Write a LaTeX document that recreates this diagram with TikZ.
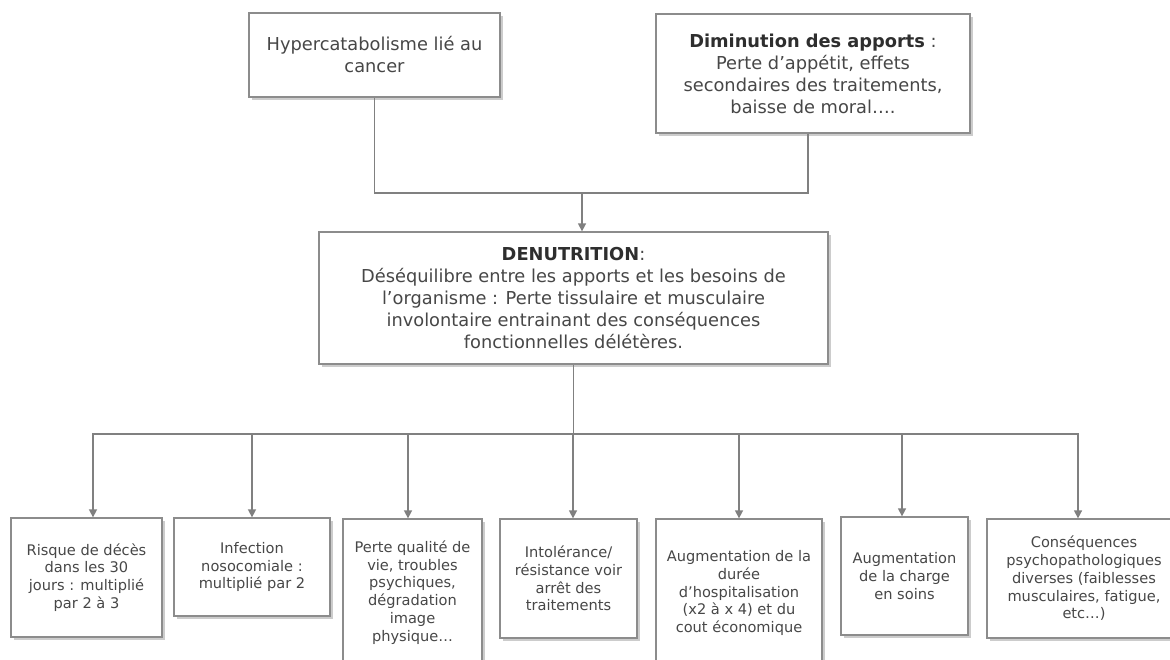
\documentclass[tikz,border=0pt]{standalone}
\usepackage{fontspec}
\setmainfont{DejaVu Sans}
\usepackage{tikz}
\usetikzlibrary{arrows.meta, shadows}

\begin{document}
\begin{tikzpicture}[
    x=0.5pt, y=-0.5pt,
    box_style/.style={draw=black!45, line width=0.65pt, fill=white, inner sep=0pt, align=center, text=black!72,
        drop shadow={shadow xshift=1.3pt, shadow yshift=-1.3pt, fill=black, opacity=0.2}},
    top_text/.style={font=\fontsize{8.9}{11}\selectfont},
    small_text/.style={font=\fontsize{7.3}{8.9}\selectfont},
    line_style/.style={draw=black!50, line width=0.75pt},
    arrow_style/.style={line_style, -{Triangle[width=4pt, length=4pt]}}
]

    % Frame of the picture
    \useasboundingbox (0,0) rectangle (1170,659);
    \clip (0,0) rectangle (1170,659);

    % Causes
    \node[box_style, top_text, minimum width=125.5pt, minimum height=42pt] (hyper) at (374.5,55)
        {Hypercatabolisme lié au\\cancer};
    \node[box_style, top_text, minimum width=157pt, minimum height=59.5pt] (apports) at (813,73.5)
        {\textbf{\color{black!82}Diminution des apports} :\\Perte d’appétit, effets\\secondaires des traitements,\\baisse de moral….};

    % Central box
    \node[box_style, top_text, minimum width=254.5pt, minimum height=66pt] (denut) at (573.5,298)
        {\textbf{\color{black!82}DENUTRITION}:\\Déséquilibre entre les apports et les besoins de\\l’organisme : Perte tissulaire et musculaire\\involontaire entrainant des conséquences\\fonctionnelles délétères.};

    % Consequences
    \node[box_style, small_text, minimum width=75.5pt, minimum height=59.5pt] (risque) at (86.5,577.5)
        {Risque de décès\\dans les 30\\jours : multiplié\\par 2 à 3};
    \node[box_style, small_text, minimum width=78pt, minimum height=49pt] (infection) at (252,567)
        {Infection\\nosocomiale :\\multiplié par 2};
    \node[box_style, small_text, minimum width=69.5pt, minimum height=73.5pt] (perte) at (412.5,592.5)
        {Perte qualité de\\vie, troubles\\psychiques,\\dégradation\\image\\physique…};
    \node[box_style, small_text, minimum width=68.5pt, minimum height=59.5pt] (intol) at (568.5,578.5)
        {Intolérance/\\résistance voir\\arrêt des\\traitements};
    \node[box_style, small_text, minimum width=83pt, minimum height=74pt] (duree) at (739,593)
        {Augmentation de la\\durée\\d’hospitalisation\\(x2 à x 4) et du\\cout économique};
    \node[box_style, small_text, minimum width=63.5pt, minimum height=59pt] (charge) at (904.5,576)
        {Augmentation\\de la charge\\en soins};
    \node[box_style, small_text, minimum width=97pt, minimum height=59.5pt] (conseq) at (1084,578.5)
        {Conséquences\\psychopathologiques\\diverses (faiblesses\\musculaires, fatigue,\\etc…)};

    % Causes to central box
    \coordinate (top_join) at (582,193);
    \draw[line_style] (hyper.south) |- (top_join) -| ([xshift=-2.5pt]apports.south);
    \draw[arrow_style] (top_join) -- (top_join |- denut.north);

    % Central box to consequences
    \coordinate (bottom_join) at (573.5,434);
    \draw[line_style] (denut.south) -- (bottom_join);
    \foreach \n/\s in {risque/3.25, infection/0, perte/-2.25, intol/2.25, duree/0, charge/-1.25, conseq/-3}
        \draw[arrow_style] (bottom_join) -| ([xshift=\s pt]\n.north);

\end{tikzpicture}
\end{document}
